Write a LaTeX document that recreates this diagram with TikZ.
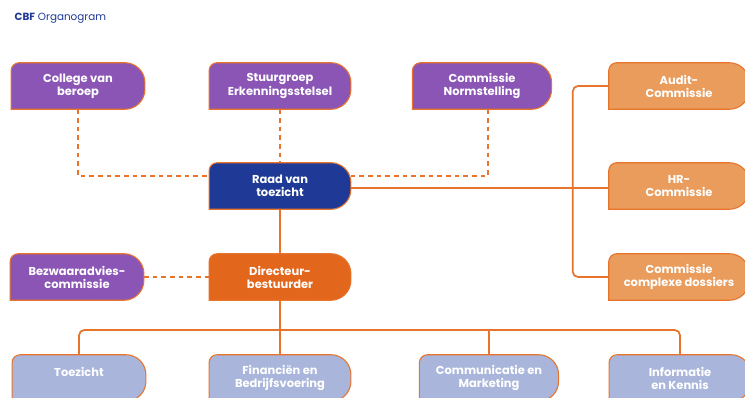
\documentclass[tikz,border=0pt]{standalone}
\usepackage{fontspec}
\setmainfont{Poppins}
\usetikzlibrary{backgrounds}

\definecolor{cbfblue}{HTML}{1E3A96}
\definecolor{cbfpurple}{HTML}{8A55B5}
\definecolor{cbforange}{HTML}{E8732B}
\definecolor{cbfdirect}{HTML}{E2661C}
\definecolor{cbflight}{HTML}{EA9C5C}
\definecolor{cbfgrey}{HTML}{A9B5DA}

\tikzset{
  orgbox/.style={minimum height=34.5pt, align=center, text=white, inner sep=0pt,
    font=\fontsize{8.6}{9.8}\selectfont\bfseries},
  orgline/.style={draw=cbforange, line width=1.3pt},
  orgdash/.style={orgline, dash pattern=on 3.5pt off 3pt},
}

% box with square bottom-left corner
\newcommand{\orgshape}[2]{%
  \draw[fill=#2, draw=cbforange, line width=0.8pt] (#1.south west)
    -- ([yshift=-6pt]#1.north west) arc[start angle=180, end angle=90, radius=6pt]
    -- ([xshift=-15pt]#1.north east) arc[start angle=90, end angle=0, radius=15pt]
    -- ([yshift=15pt]#1.south east) arc[start angle=0, end angle=-90, radius=15pt]
    -- cycle;}

\begin{document}
\begin{tikzpicture}[x=0.75pt,y=-0.75pt]
\useasboundingbox (0,0) rectangle (745,398);

% Title
\node[anchor=west, text=cbfblue, font=\fontsize{7.8}{9}\selectfont] (title) at (10,18) {\textbf{CBF} Organogram};

% Top row
\node[orgbox, minimum width=100pt] (college) at (78,86) {College van\\beroep};
\node[orgbox, minimum width=106pt] (stuurgroep) at (280,86) {Stuurgroep\\Erkenningsstelsel};
\node[orgbox, minimum width=104pt] (normstelling) at (482,86) {Commissie\\Normstelling};
% Commissions on the right
\node[orgbox, minimum width=105pt] (audit) at (679,86) {Audit-\\Commissie};
\node[orgbox, minimum width=105pt] (hr) at (679,186) {HR-\\Commissie};
\node[orgbox, minimum width=105pt] (complexe) at (679,277) {Commissie\\complexe dossiers};
% Middle
\node[orgbox, minimum width=106pt] (raad) at (280,186) {Raad van\\toezicht};
\node[orgbox, minimum width=100pt] (bezwaar) at (77,277) {Bezwaaradvies-\\commissie};
\node[orgbox, minimum width=106pt] (directeur) at (280,277) {Directeur-\\bestuurder};
% Bottom row
\node[orgbox, minimum width=100pt] (toezicht) at (79,378) {Toezicht\\\phantom{X}};
\node[orgbox, minimum width=106pt] (financien) at (280,378) {Financiën en\\Bedrijfsvoering};
\node[orgbox, minimum width=104pt] (communicatie) at (489,378) {Communicatie en\\Marketing};
\node[orgbox, minimum width=106pt] (informatie) at (680,378) {Informatie\\en Kennis};

\coordinate (split) at (280,330);

\begin{scope}[on background layer]
\fill[white] (0,0) rectangle (745,398);

% dashed connectors
\draw[orgdash] (college.south) |- ([yshift=7.5pt]raad.west);
\draw[orgdash] (stuurgroep.south) -- (raad.north);
\draw[orgdash] ([xshift=4.5pt]normstelling.south) |- ([yshift=7.5pt]raad.east);
\draw[orgdash] (bezwaar.east) -- (directeur.west);

% solid connectors
\draw[orgline] ([yshift=-1.5pt]raad.east) -- ([yshift=-1.5pt]hr.west);
\draw[orgline, rounded corners=4pt] (audit.west) -- ++(-36,0) |- (complexe.west);
\draw[orgline] (raad.south) -- (directeur.north);
\draw[orgline] (directeur.south) -- (financien.north);
\draw[orgline, rounded corners=4pt] (toezicht.north) |- (split) -| (informatie.north);
\draw[orgline] (communicatie.north) |- (split);

% boxes
\orgshape{college}{cbfpurple}
\orgshape{stuurgroep}{cbfpurple}
\orgshape{normstelling}{cbfpurple}
\orgshape{bezwaar}{cbfpurple}
\orgshape{raad}{cbfblue}
\orgshape{directeur}{cbfdirect}
\foreach \n in {audit,hr,complexe} \orgshape{\n}{cbflight};
\foreach \n in {toezicht,financien,communicatie,informatie} \orgshape{\n}{cbfgrey};
\end{scope}

\end{tikzpicture}
\end{document}
